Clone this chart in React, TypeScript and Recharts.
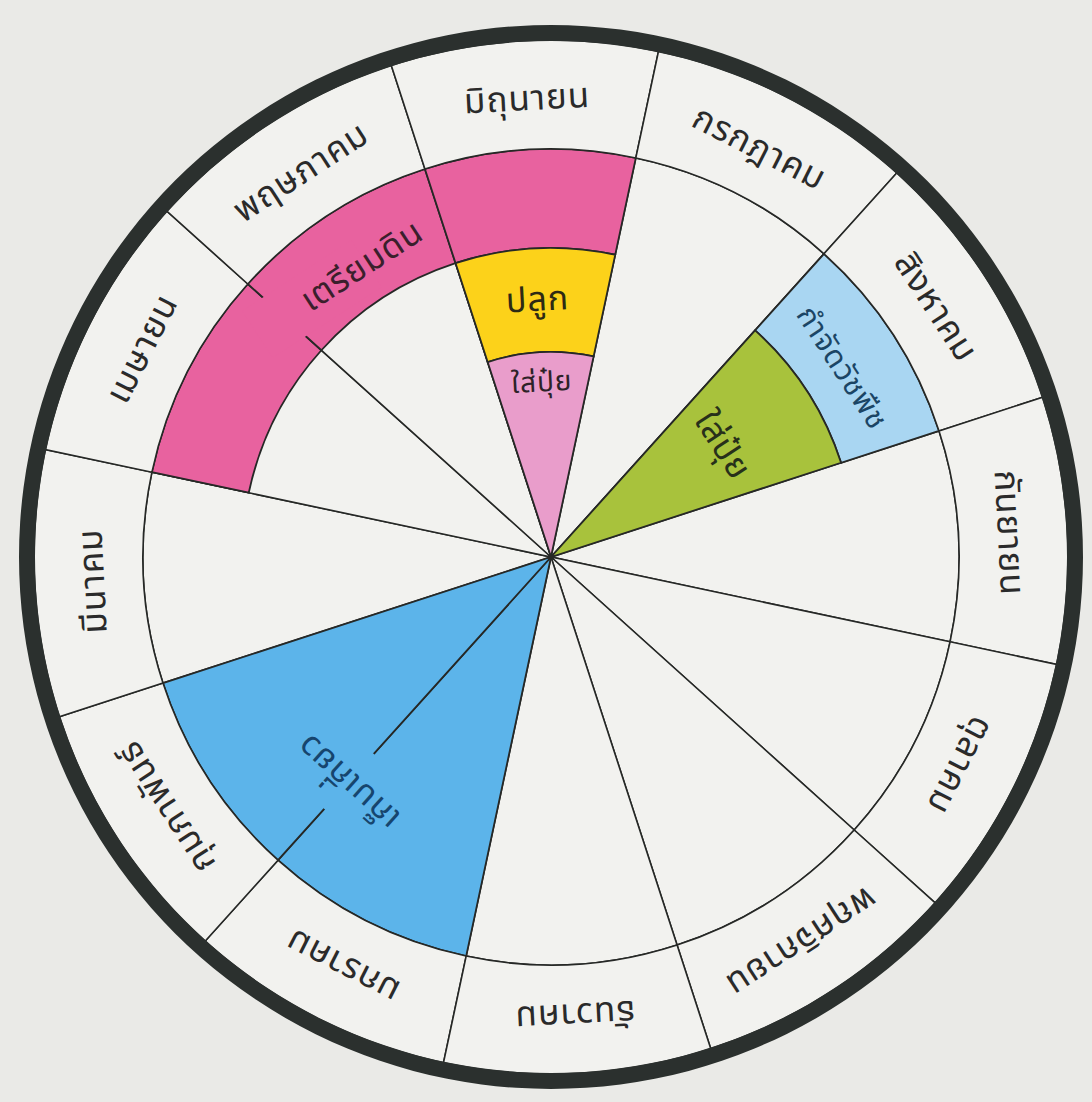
import { PieChart, Pie, Cell } from 'recharts'

// months in calendar order, drawn clockwise; มกราคม sits at the lower left
const months = ['มกราคม', 'กุมภาพันธ์', 'มีนาคม', 'เมษายน', 'พฤษภาคม', 'มิถุนายน', 'กรกฎาคม', 'สิงหาคม', 'กันยายน', 'ตุลาคม', 'พฤศจิกายน', 'ธันวาคม']

// activities and the months they cover
const harvestMonths = ['มกราคม', 'กุมภาพันธ์']
const prepMonths = ['เมษายน', 'พฤษภาคม', 'มิถุนายน']
const plantMonths = ['มิถุนายน']
const fertJuneMonths = ['มิถุนายน']
const weedMonths = ['สิงหาคม']
const fertAugMonths = ['สิงหาคม']

const activityNames = {
  harvest: 'เก็บเกี่ยว',
  prep: 'เตรียมดิน',
  plant: 'ปลูก',
  fertJune: 'ใส่ปุ๋ย',
  weed: 'กำจัดวัชพืช',
  fertAug: 'ใส่ปุ๋ย',
}

// layout / styling (kept apart from the data)
const CX = 551
const CY = 557
const R_INNER = 408
const R_RING = 517
const R_BORDER = 532
const START = -102 // มกราคม begins ~192° clockwise from the top
const END = START - 360
const FONT = '"Noto Sans Thai", "Noto Sans", "DejaVu Sans", sans-serif'
const LINE = '#262826'
const CELL = '#f2f2ef'

const activities = [
  { key: 'harvest', months: harvestMonths, r0: 0, r1: R_INNER, fill: '#5cb4ea', text: '#16456e', lr: 0.74, fs: 34, padW: 170, padH: 74, padDx: 0 },
  { key: 'prep', months: prepMonths, r0: 309, r1: R_INNER, fill: '#e8629f', text: '#3b1f2c', lr: 0.38, fs: 34, padW: 130, padH: 56, padDx: -60 },
  { key: 'plant', months: plantMonths, r0: 205, r1: 309, fill: '#fcd21a', text: '#2d2a14', lr: 0.5, fs: 34, padW: 0, padH: 0, padDx: 0 },
  { key: 'fertJune', months: fertJuneMonths, r0: 0, r1: 205, fill: '#e99dcb', text: '#2d2228', lr: 0.85, fs: 28, padW: 0, padH: 0, padDx: 0 },
  { key: 'weed', months: weedMonths, r0: 305, r1: R_INNER, fill: '#a9d6f2', text: '#1b4565', lr: 0.4, fs: 30, padW: 0, padH: 0, padDx: 0 },
  { key: 'fertAug', months: fertAugMonths, r0: 0, r1: 305, fill: '#a8c23c', text: '#27301a', lr: 0.67, fs: 34, padW: 0, padH: 0, padDx: 0 },
]

const monthData = months.map(m => ({ name: m, value: 1 }))
const borderData = [{ name: 'border', value: 1 }]

const RAD = Math.PI / 180

function spanData(list: string[], label: string) {
  const i0 = months.indexOf(list[0])
  const n = list.length
  return [
    { name: '', value: i0 },
    { name: label, value: n },
    { name: '', value: months.length - i0 - n },
  ].filter(d => d.value > 0)
}

type Pad = { fill: string; w: number; h: number; dx: number }

function arcText(props: any, r: number, size: number, color: string, pad?: Pad) {
  const { cx, cy, midAngle } = props
  const name = props.name ?? props.payload?.name
  if (!name) return <g />
  const x = cx + r * Math.cos(-midAngle * RAD)
  const y = cy + r * Math.sin(-midAngle * RAD)
  const rot = 90 - midAngle
  return (
    <g transform={`rotate(${rot} ${x} ${y})`}>
      {/* backing patch so the radial line breaks around the word */}
      {pad && pad.w > 0 && (
        <rect x={x - pad.w / 2 + pad.dx} y={y - pad.h / 2} width={pad.w} height={pad.h} fill={pad.fill} stroke="none" />
      )}
      <text
        x={x}
        y={y}
        textAnchor="middle"
        dominantBaseline="central"
        fontFamily={FONT}
        fontSize={size}
        letterSpacing={1}
        fill={color}
        stroke="none"
      >
        {name}
      </text>
    </g>
  )
}

export default function App() {
  return (
    <div style={{ position: 'absolute', left: 0, top: 0, width: 1092, height: 1102, background: '#eaeae7' }}>
      <PieChart width={1092} height={1102} margin={{ top: 0, right: 0, bottom: 0, left: 0 }}>
        {/* inner disc with radial month lines */}
        <Pie
          data={monthData}
          dataKey="value"
          cx={CX}
          cy={CY}
          innerRadius={0}
          outerRadius={R_INNER}
          startAngle={START}
          endAngle={END}
          fill={CELL}
          stroke={LINE}
          strokeWidth={1.6}
          isAnimationActive={false}
        />
        {activities.map(a => (
          <Pie
            key={a.key}
            data={monthData}
            dataKey="value"
            cx={CX}
            cy={CY}
            innerRadius={a.r0}
            outerRadius={a.r1}
            startAngle={START}
            endAngle={END}
            strokeWidth={1.8}
            isAnimationActive={false}
          >
            {monthData.map(m => {
              const on = a.months.includes(m.name)
              return <Cell key={m.name} fill={on ? a.fill : 'none'} stroke={on ? LINE : 'none'} />
            })}
          </Pie>
        ))}
        {/* activity labels */}
        {activities.map(a => (
          <Pie
            key={a.key + '-label'}
            data={spanData(a.months, activityNames[a.key as keyof typeof activityNames])}
            dataKey="value"
            cx={CX}
            cy={CY}
            innerRadius={a.r0}
            outerRadius={a.r1}
            startAngle={START}
            endAngle={END}
            fill="none"
            stroke="none"
            labelLine={false}
            label={(p: any) =>
              arcText(p, a.r0 + (a.r1 - a.r0) * a.lr, a.fs, a.text, { fill: a.fill, w: a.padW, h: a.padH, dx: a.padDx })
            }
            isAnimationActive={false}
          />
        ))}
        {/* month ring */}
        <Pie
          data={monthData}
          dataKey="value"
          cx={CX}
          cy={CY}
          innerRadius={R_INNER}
          outerRadius={R_RING}
          startAngle={START}
          endAngle={END}
          fill={CELL}
          stroke={LINE}
          strokeWidth={1.6}
          labelLine={false}
          label={(p: any) => arcText(p, 458, 35, '#2a2a2a')}
          isAnimationActive={false}
        />
        {/* thick outer rim */}
        <Pie
          data={borderData}
          dataKey="value"
          cx={CX}
          cy={CY}
          innerRadius={R_RING - 1}
          outerRadius={R_BORDER}
          startAngle={0}
          endAngle={360}
          fill="#2b302e"
          stroke="none"
          isAnimationActive={false}
        />
      </PieChart>
    </div>
  )
}
